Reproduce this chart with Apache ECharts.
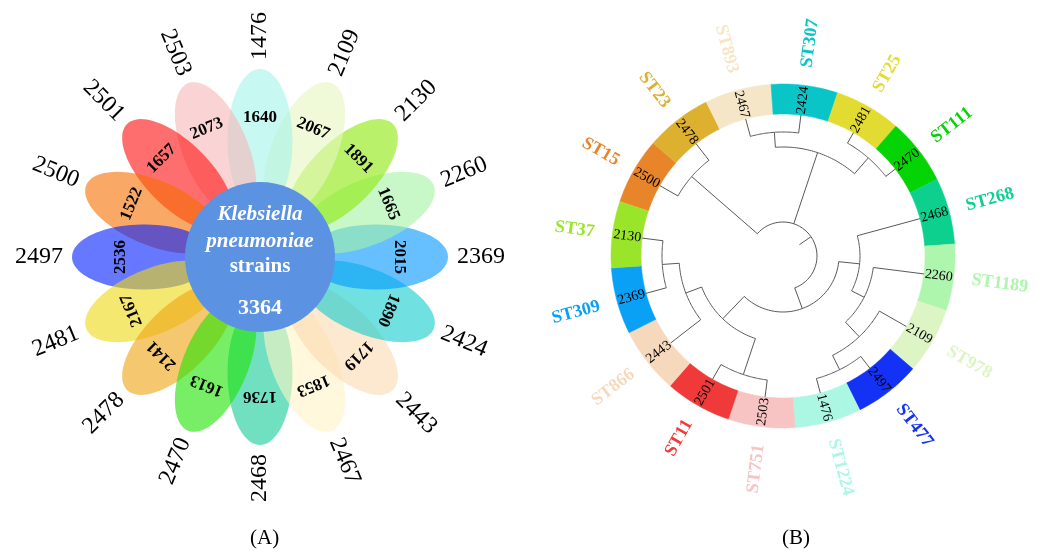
<!DOCTYPE html>
<html>
<head>
<meta charset="utf-8">
<script src="https://cdn.jsdelivr.net/npm/echarts@6/dist/echarts.min.js"></script>
<style>
  html, body { margin: 0; padding: 0; background: #ffffff; }
  #main { width: 1052px; height: 553px; }
</style>
</head>
<body>
<div id="main"></div>
<script>
// ---------- (A) flower plot: strain-specific genes around the core genome ----------
const strains = ['1476', '2109', '2130', '2260', '2369', '2424', '2443', '2467',
                 '2468', '2470', '2478', '2481', '2497', '2500', '2501', '2503'];
const uniqueGenes = [1640, 2067, 1891, 1665, 2015, 1890, 1719, 1853,
                     1736, 1613, 2141, 2167, 2536, 1522, 1657, 2073];
const petalColors = ['#A3F3E9', '#E6F7BE', '#8AE907', '#A3F3A3', '#0096FF', '#11CBCB', '#FCD9B1', '#FFF3C5',
                     '#11CB96', '#1EE300', '#EEA311', '#EED911', '#001EFF', '#F56E00', '#FF0D0D', '#F7B7B7'];
const coreTitle = ['Klebsiella', 'pneumoniae', 'strains'];
const coreGenes = 3364;

// ---------- (B) circular dendrogram of the strains, leaves in tree order ----------
const leafIds = ['2500', '2478', '2467', '2424', '2481', '2470', '2468', '2260',
                 '2109', '2497', '1476', '2503', '2501', '2443', '2369', '2130'];
const leafST = ['ST15', 'ST23', 'ST893', 'ST307', 'ST25', 'ST111', 'ST268', 'ST1189',
                'ST978', 'ST477', 'ST1224', 'ST751', 'ST11', 'ST866', 'ST309', 'ST37'];
const stColors = ['#E8842A', '#DDB030', '#F5E6C8', '#0AC5C8', '#E2DC32', '#04D404', '#0DD08E', '#AEF5AE',
                  '#DDF5C4', '#1432F5', '#ABF7E4', '#F7C3C3', '#F03A3A', '#F6D9BD', '#0AA0F5', '#9AE52A'];
// internal nodes: children and node height (distance from the tree centre)
const clusterIds = ['n1', 'n2', 'n3', 'n4', 'n5', 'n6', 'n7', 'n8', 'n9', 'n10', 'n11', 'n12', 'n13', 'root'];
const clusterChildren = [
  ['2500', '2478'], ['2467', '2424'], ['2481', '2470'], ['n2', 'n3'],
  ['2497', '1476'], ['2109', 'n5'], ['2260', 'n6'], ['2468', 'n7'],
  ['2503', '2501'], ['2369', '2130'], ['2443', 'n10'], ['n9', 'n11'],
  ['n8', 'n12'], ['n1', 'n4', 'n13']
];
const clusterRadius = [121, 124, 130, 109, 127, 111, 91, 77, 125, 121, 104, 87, 56, 34];

// ---------- layout ----------
const SERIF = '"Liberation Serif", "DejaVu Serif", serif';
const F = { center: [260, 257], outer: 221, petalR: 116, petalA: 72, petalB: 32.5,
            countR: 139, labelR: 221, coreR: 75 };
const T = { center: [783, 256], outer: 172, inner: 142, leafLabelR: 157, stLabelR: 190,
            rootStub: 20, startAngle: 161.5 };

function rgba(hex, a) {
  const n = parseInt(hex.slice(1), 16);
  return 'rgba(' + (n >> 16 & 255) + ',' + (n >> 8 & 255) + ',' + (n & 255) + ',' + a + ')';
}
// direction (math angle, degrees) of a point seen from a centre
function dirDeg(c, p) {
  return Math.atan2(-(p[1] - c[1]), p[0] - c[0]) * 180 / Math.PI;
}
// radial text: reads outward on the right half, inward on the left half
function radialText(c, p) {
  const phi = dirDeg(c, p);
  const flipped = phi > 90.5 || phi < -89.5;
  return { rotation: (flipped ? phi - 180 : phi) * Math.PI / 180, flipped: flipped };
}
function arcPoints(api, r, v0, v1, steps) {
  const pts = [];
  for (let s = 0; s <= steps; s++) pts.push(api.coord([r, v0 + (v1 - v0) * s / steps]));
  return pts;
}

// node positions of the dendrogram (angle in leaf slots, radius in px units)
const nodePos = {};
leafIds.forEach((id, k) => { nodePos[id] = { v: k + 0.5, r: T.inner }; });
clusterIds.forEach((id, i) => {
  const vs = clusterChildren[i].map(c => nodePos[c].v);
  nodePos[id] = { v: (Math.min(...vs) + Math.max(...vs)) / 2, r: clusterRadius[i] };
});

// petals are painted anticlockwise, starting from the bottom one
const nP = strains.length;
const startIdx = strains.indexOf('2468');
const drawOrder = strains.map((s, j) => (startIdx - j + nP) % nP);

const unitDeg = 360 / nP;

function renderPetal(params, api) {
  const i = api.value(1);
  const pts = [];
  for (let s = 0; s < 90; s++) {
    const t = s / 90 * 2 * Math.PI;
    const along = F.petalR + F.petalA * Math.cos(t);
    const perp = F.petalB * Math.sin(t);
    const r = Math.hypot(along, perp);
    const dv = Math.atan2(perp, along) * 180 / Math.PI / unitDeg;
    pts.push(api.coord([r, i + dv]));
  }
  return { type: 'polygon', shape: { points: pts }, style: { fill: rgba(petalColors[i], 0.6) } };
}

function renderPetalText(params, api) {
  const i = params.dataIndex;
  const c = api.coord([0, 0]);
  const pc = api.coord([F.countR, i]);
  const pl = api.coord([F.labelR, i]);
  const phi = dirDeg(c, pc);
  const rt = radialText(c, pl);
  return {
    type: 'group',
    children: [
      { type: 'text', x: pc[0], y: pc[1], rotation: (phi - 90) * Math.PI / 180,
        style: { text: String(uniqueGenes[i]), font: 'bold 17px ' + SERIF, fill: '#000',
                 align: 'center', verticalAlign: 'middle' } },
      { type: 'text', x: pl[0], y: pl[1], rotation: rt.rotation,
        style: { text: strains[i], font: '24px ' + SERIF, fill: '#000',
                 align: 'center', verticalAlign: 'middle' } }
    ]
  };
}

function renderCore(params, api) {
  const c = api.coord([0, 0]);
  const e = api.coord([F.coreR, 0]);
  const rad = Math.hypot(e[0] - c[0], e[1] - c[1]);
  const txt = (s, dy, font) => ({ type: 'text', x: c[0], y: c[1] + dy,
    style: { text: s, font: font, fill: '#ffffff', align: 'center', verticalAlign: 'middle' } });
  return {
    type: 'group',
    children: [
      { type: 'circle', shape: { cx: c[0], cy: c[1], r: rad }, style: { fill: '#5B93E2' } },
      txt(coreTitle[0], -42, 'italic bold 21px ' + SERIF),
      txt(coreTitle[1], -15, 'italic bold 21px ' + SERIF),
      txt(coreTitle[2], 10, 'bold 21px ' + SERIF),
      txt(String(coreGenes), 51, 'bold 22px ' + SERIF)
    ]
  };
}

function renderLeaf(params, api) {
  const k = params.dataIndex;
  const c = api.coord([0, 0]);
  const outerArc = arcPoints(api, T.outer, k, k + 1, 16);
  const innerArc = arcPoints(api, T.inner, k + 1, k, 16);
  const pLeaf = api.coord([T.leafLabelR, k + 0.5]);
  const pST = api.coord([T.stLabelR, k + 0.5]);
  const rl = radialText(c, pLeaf);
  const rs = radialText(c, pST);
  return {
    type: 'group',
    children: [
      { type: 'polygon', shape: { points: outerArc.concat(innerArc) },
        style: { fill: stColors[k], stroke: stColors[k], lineWidth: 0.5 } },
      { type: 'text', x: pLeaf[0], y: pLeaf[1], rotation: rl.rotation,
        style: { text: leafIds[k], font: '14px ' + SERIF, fill: '#000',
                 align: 'center', verticalAlign: 'middle' } },
      { type: 'text', x: pST[0], y: pST[1], rotation: rs.rotation,
        style: { text: leafST[k], font: 'bold 18px ' + SERIF, fill: stColors[k],
                 align: rs.flipped ? 'right' : 'left', verticalAlign: 'middle' } }
    ]
  };
}

const lineStyle = { stroke: '#595959', lineWidth: 1, fill: 'none' };
function renderCluster(params, api) {
  const i = params.dataIndex;
  const node = nodePos[clusterIds[i]];
  const kids = clusterChildren[i].map(c => nodePos[c]);
  const vs = kids.map(k => k.v);
  const children = [
    { type: 'polyline', shape: { points: arcPoints(api, node.r, Math.min(...vs), Math.max(...vs), 40) },
      style: lineStyle }
  ];
  kids.forEach(kd => {
    const a = api.coord([node.r, kd.v]);
    const b = api.coord([kd.r, kd.v]);
    children.push({ type: 'line', shape: { x1: a[0], y1: a[1], x2: b[0], y2: b[1] }, style: lineStyle });
  });
  if (clusterIds[i] === 'root') {
    const a = api.coord([T.rootStub, node.v]);
    const b = api.coord([node.r, node.v]);
    children.push({ type: 'line', shape: { x1: a[0], y1: a[1], x2: b[0], y2: b[1] }, style: lineStyle });
  }
  return { type: 'group', children: children };
}

const chart = echarts.init(document.getElementById('main'), null, { renderer: 'canvas' });
chart.setOption({
  animation: false,
  backgroundColor: '#ffffff',
  polar: [
    { center: F.center, radius: F.outer },
    { center: T.center, radius: T.outer }
  ],
  angleAxis: [
    { polarIndex: 0, type: 'value', min: 0, max: nP, startAngle: 90, clockwise: true, show: false },
    { polarIndex: 1, type: 'value', min: 0, max: leafIds.length, startAngle: T.startAngle, clockwise: true, show: false }
  ],
  radiusAxis: [
    { polarIndex: 0, type: 'value', min: 0, max: F.outer, show: false },
    { polarIndex: 1, type: 'value', min: 0, max: T.outer, show: false }
  ],
  series: [
    { type: 'custom', coordinateSystem: 'polar', polarIndex: 0, z: 2, silent: true,
      data: drawOrder.map(i => [F.petalR, i]), renderItem: renderPetal },
    { type: 'custom', coordinateSystem: 'polar', polarIndex: 0, z: 3, silent: true,
      data: [[0, 0]], renderItem: renderCore },
    { type: 'custom', coordinateSystem: 'polar', polarIndex: 0, z: 4, silent: true,
      data: strains.map((s, i) => [F.countR, i]), renderItem: renderPetalText },
    { type: 'custom', coordinateSystem: 'polar', polarIndex: 1, z: 2, silent: true,
      data: leafIds.map((id, k) => [T.inner, k + 0.5]), renderItem: renderLeaf },
    { type: 'custom', coordinateSystem: 'polar', polarIndex: 1, z: 3, silent: true,
      data: clusterIds.map((id, i) => [clusterRadius[i], nodePos[id].v]), renderItem: renderCluster }
  ],
  graphic: [
    { type: 'text', left: 250, top: 528, style: { text: '(A)', font: '21px ' + SERIF, fill: '#000' } },
    { type: 'text', left: 782, top: 528, style: { text: '(B)', font: '21px ' + SERIF, fill: '#000' } }
  ]
});
</script>
</body>
</html>
